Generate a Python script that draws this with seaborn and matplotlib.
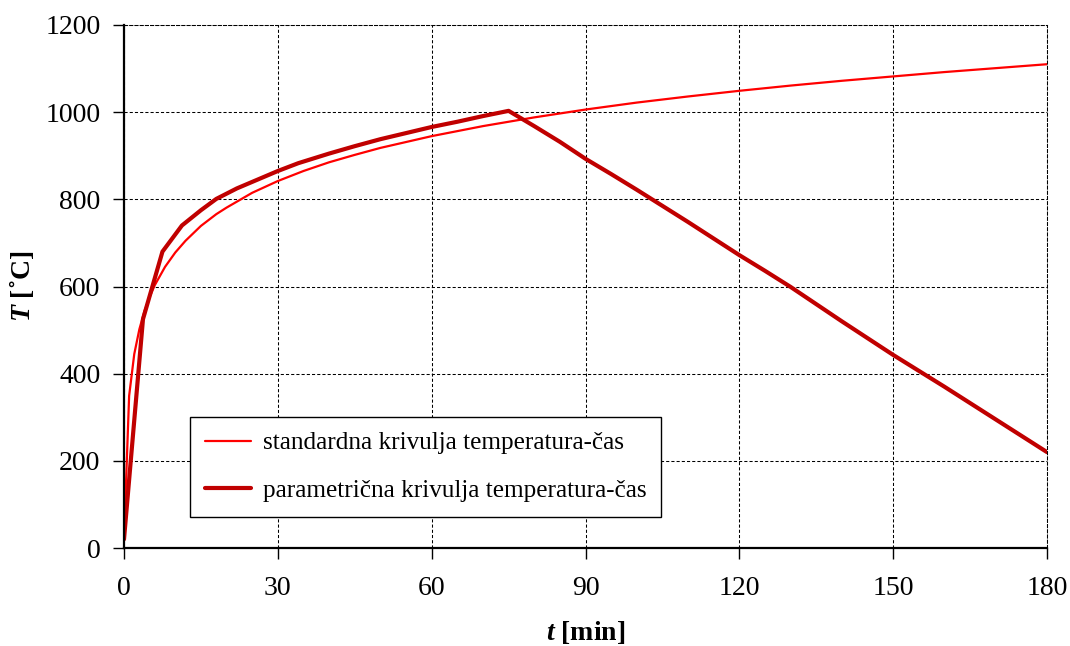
import matplotlib
matplotlib.use("Agg")
import matplotlib.pyplot as plt
import seaborn as sns
import pandas as pd

# Standard fire curve (time in min, gas temperature in °C)
std_time = [0, 1, 2, 3, 4, 5, 6, 8, 10, 12, 15, 18, 20, 25, 30, 35, 40, 45, 50,
            60, 70, 80, 90, 100, 110, 120, 130, 140, 150, 160, 170, 180]
std_temp = [20, 349, 445, 502, 544, 576, 603, 645, 678, 705, 739, 766, 781, 815,
            842, 865, 885, 902, 918, 945, 968, 988, 1006, 1022, 1036, 1049, 1061,
            1072, 1082, 1092, 1101, 1110]

# Parametric fire curve: heating up to the peak, then cooling
par_time = [0, 3.7, 7.5, 11.3, 15, 18, 22, 26, 30, 34, 40, 45, 50, 55, 60, 65, 70,
            75, 80, 85, 90, 95, 100, 105, 110, 115, 120, 125, 130, 140, 150, 160,
            170, 180]
par_temp = [20, 525, 680, 740, 775, 801, 825, 845, 865, 883, 905, 922, 938, 952,
            966, 978, 991, 1003, 968, 932, 893, 858, 822, 785, 748, 710, 672, 636,
            599, 520, 443, 370, 295, 220]

series_labels = ["standardna krivulja temperatura-čas",
                 "parametrična krivulja temperatura-čas"]
x_ticks = [0, 30, 60, 90, 120, 150, 180]
y_ticks = [0, 200, 400, 600, 800, 1000, 1200]

sns.set_theme(style="white")
plt.rcParams["font.family"] = ["Liberation Serif", "DejaVu Serif"]
plt.rcParams["text.color"] = "black"
plt.rcParams["axes.labelcolor"] = "black"
plt.rcParams["mathtext.fontset"] = "custom"
plt.rcParams["mathtext.rm"] = "Liberation Serif"
plt.rcParams["mathtext.it"] = "Liberation Serif:italic"
plt.rcParams["mathtext.bf"] = "Liberation Serif:bold"
plt.rcParams["mathtext.bfit"] = "Liberation Serif:italic:bold"

df_std = pd.DataFrame({"t": std_time, "T": std_temp})
df_par = pd.DataFrame({"t": par_time, "T": par_temp})

fig = plt.figure(figsize=(10.7, 6.46), dpi=100)
ax = fig.add_axes([124 / 1070, 1 - 548 / 646, 923 / 1070, 523 / 646])

sns.lineplot(data=df_std, x="t", y="T", ax=ax, color="#FF0000", linewidth=1.6,
             label=series_labels[0], estimator=None, sort=False)
sns.lineplot(data=df_par, x="t", y="T", ax=ax, color="#C00000", linewidth=3.0,
             label=series_labels[1], estimator=None, sort=False)

ax.set_xlim(0, 180)
ax.set_ylim(0, 1200)
ax.set_xticks(x_ticks)
ax.set_yticks(y_ticks)
ax.set_xticklabels([str(v) for v in x_ticks])
ax.set_yticklabels([str(v) for v in y_ticks])

ax.grid(True, color="black", linewidth=0.75, linestyle=(0, (3, 2)))
ax.set_axisbelow(True)

for side in ("left", "bottom"):
    ax.spines[side].set_color("black")
    ax.spines[side].set_linewidth(1.6)
for side in ("top", "right"):
    ax.spines[side].set_color("black")
    ax.spines[side].set_linewidth(0.75)
    ax.spines[side].set_linestyle((0, (3, 2)))

ax.tick_params(axis="both", direction="out", length=8, width=1, color="black",
               labelsize=20, labelcolor="black", bottom=True, left=True)
ax.tick_params(axis="x", pad=12)
ax.tick_params(axis="y", pad=9)

ax.set_xlabel(r"$\mathbfit{t}$ [min]", fontsize=20, fontweight="bold", va="center",
              color="black")
ax.set_ylabel(r"$\mathbfit{T}$ [˚C]", fontsize=20, fontweight="bold", va="center",
              color="black")
ax.xaxis.set_label_coords(0.5, (548 - 633) / 523)
ax.yaxis.set_label_coords((22 - 124) / 923, 0.5)

leg = ax.legend(loc="lower left", bbox_to_anchor=((190 - 124) / 923, (548 - 517) / 523),
                fontsize=18.2, frameon=True, fancybox=False, edgecolor="black",
                framealpha=1, handlelength=1.85, handletextpad=0.45,
                labelspacing=1.0, borderpad=0.58, borderaxespad=0)
leg.get_frame().set_linewidth(1.0)
for txt in leg.get_texts():
    txt.set_color("black")

fig.savefig("out.png", dpi=100)
